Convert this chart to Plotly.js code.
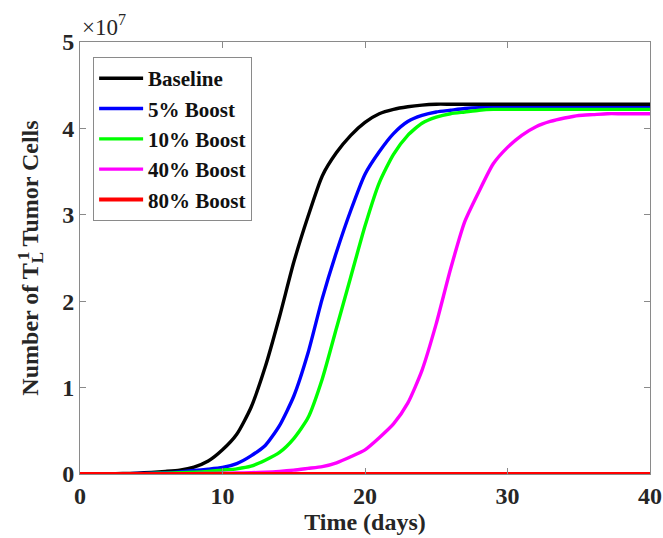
<!DOCTYPE html>
<html>
<head>
<meta charset="utf-8">
<script src="https://cdn.plot.ly/plotly-3.0.1.min.js"></script>
<style>body{margin:0;padding:0;background:#fff;} #chart{width:663px;height:538px;}</style>
</head>
<body>
<div id="chart"></div>
<script>
// Time in days
const days = [0,1,2,3,4,5,6,7,8,9,10,11,12,13,14,15,16,17,18,19,20,21,22,23,24,25,26,27,28,29,30,31,32,33,34,35,36,37,38,39,40];
// Tumor cell counts, in units of 1e7
const baseline = [0,0,0.002,0.005,0.01,0.018,0.03,0.045,0.08,0.15,0.28,0.46,0.77,1.24,1.82,2.45,2.98,3.45,3.72,3.92,4.07,4.17,4.22,4.25,4.27,4.28,4.28,4.28,4.28,4.28,4.28,4.28,4.28,4.28,4.28,4.28,4.28,4.28,4.28,4.28,4.28];
const boost5 = [0,0,0,0.002,0.005,0.01,0.015,0.025,0.04,0.055,0.075,0.12,0.21,0.33,0.56,0.9,1.4,2.03,2.57,3.05,3.47,3.73,3.94,4.08,4.15,4.19,4.21,4.23,4.24,4.24,4.24,4.24,4.24,4.24,4.24,4.24,4.24,4.24,4.24,4.24,4.24];
const boost10 = [0,0,0,0.001,0.003,0.006,0.01,0.015,0.02,0.03,0.045,0.06,0.09,0.16,0.25,0.41,0.65,1.1,1.69,2.28,2.87,3.37,3.7,3.92,4.06,4.13,4.17,4.19,4.21,4.22,4.22,4.22,4.22,4.22,4.22,4.22,4.22,4.22,4.22,4.22,4.22];
const boost40 = [0,0,0,0,0,0,0,0.002,0.004,0.006,0.008,0.011,0.015,0.02,0.03,0.045,0.065,0.085,0.13,0.2,0.28,0.42,0.58,0.82,1.2,1.74,2.37,2.92,3.27,3.59,3.78,3.92,4.02,4.08,4.12,4.15,4.16,4.17,4.17,4.17,4.17];
const boost80 = [0,0,0,0,0,0,0,0,0,0,0,0,0,0,0,0,0,0,0,0,0,0,0,0,0,0,0,0,0,0,0,0,0,0,0,0,0,0,0,0,0];

const seriesNames = ["Baseline","5% Boost","10% Boost","40% Boost","80% Boost"];
const seriesData = [baseline, boost5, boost10, boost40, boost80];
const seriesColors = ["#000000","#0000ff","#00ff00","#ff00ff","#ff0000"];
const xTicks = [0,10,20,30,40];
const yTicks = [0,1,2,3,4,5];

const traces = seriesNames.map((n,i)=>({
  x: days, y: seriesData[i], name: n, type: 'scatter', mode: 'lines',
  line: {color: seriesColors[i], width: i === 4 ? 4 : 3.4, shape: 'spline', smoothing: 0.6},
  cliponaxis: false
}));

const fam = 'Liberation Serif, Times New Roman, serif';
const axisCommon = {
  showgrid: false, zeroline: false, showline: true, mirror: 'ticks',
  linecolor: '#8a8a8a', linewidth: 1, ticks: 'inside', ticklen: 6, tickcolor: '#8a8a8a',
  tickfont: {family: fam, size: 24, color: '#262626', weight: 'bold'}
};

const layout = {
  width: 663, height: 538,
  margin: {l: 80, r: 13, t: 42, b: 64},
  paper_bgcolor: '#fff', plot_bgcolor: '#fff',
  showlegend: true,
  xaxis: Object.assign({}, axisCommon, {
    range: [0,40], tickvals: xTicks, ticktext: xTicks.map(String),
    title: {text: '<b>Time (days)</b>', font: {family: fam, size: 24, color: '#262626'}, standoff: 0}
  }),
  yaxis: Object.assign({}, axisCommon, {
    range: [0,5], tickvals: yTicks, ticktext: yTicks.map(String),
    title: {text: '<b>Number of T<sub>L</sub> Tumor Cells</b>', font: {family: fam, size: 24, color: '#262626'}, standoff: 16}
  }),
  legend: {
    x: 0.023, y: 0.965, xanchor: 'left', yanchor: 'top',
    bgcolor: '#ffffff', bordercolor: '#8a8a8a', borderwidth: 1,
    font: {family: fam, size: 21, color: '#111', weight: 'bold'},
    itemwidth: 44, tracegroupgap: 0
  },
  annotations: [{
    xref: 'paper', yref: 'paper', x: 0, y: 1, xanchor: 'left', yanchor: 'bottom',
    text: '×10<sup>7</sup>', showarrow: false,
    font: {family: fam, size: 23, color: '#262626'}, yshift: 0
  }, {
    xref: 'paper', yref: 'paper', x: -0.098, y: 0.505, xanchor: 'center', yanchor: 'middle',
    text: '<b>1</b>', textangle: -90, showarrow: false,
    font: {family: fam, size: 17, color: '#262626'}
  }]
};

Plotly.newPlot('chart', traces, layout, {displayModeBar: false, staticPlot: true});
</script>
</body>
</html>
